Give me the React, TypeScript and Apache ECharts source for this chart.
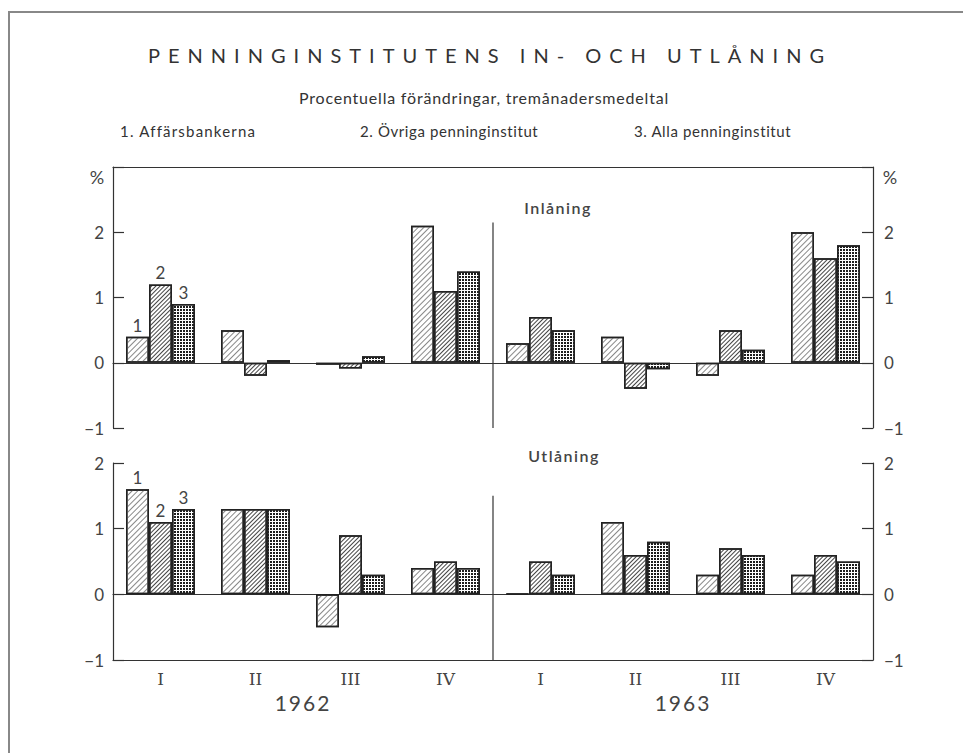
import React, { useEffect, useRef } from 'react';
import * as echarts from 'echarts';

const titleText = 'PENNINGINSTITUTENS IN- OCH UTLÅNING';
const subtitleText = 'Procentuella förändringar, tremånadersmedeltal';
const quarters = ['I', 'II', 'III', 'IV', 'I', 'II', 'III', 'IV'];
const years = ['1962', '1963'];
const seriesNames = ['1. Affärsbankerna', '2. Övriga penninginstitut', '3. Alla penninginstitut'];
const seriesTags = ['1', '2', '3'];
const panelTitles = ['Inlåning', 'Utlåning'];

const inlaning1 = [0.4, 0.5, -0.03, 2.1, 0.3, 0.4, -0.2, 2.0];
const inlaning2 = [1.2, -0.2, -0.09, 1.1, 0.7, -0.4, 0.5, 1.6];
const inlaning3 = [0.9, 0.04, 0.1, 1.4, 0.5, -0.1, 0.2, 1.8];

const utlaning1 = [1.6, 1.3, -0.5, 0.4, 0.01, 1.1, 0.3, 0.3];
const utlaning2 = [1.1, 1.3, 0.9, 0.5, 0.5, 0.6, 0.7, 0.6];
const utlaning3 = [1.3, 1.3, 0.3, 0.4, 0.3, 0.8, 0.6, 0.5];

const inRange = [-1, 3];
const utRange = [-1, 2];

const FONT = 'Lato';
const INK = '#333';

const decals: any[] = [
  { symbol: 'rect', symbolSize: 1, color: '#888', dashArrayX: [1, 0], dashArrayY: [1, 3], rotation: -Math.PI / 4 },
  { symbol: 'rect', symbolSize: 1, color: '#444', dashArrayX: [1, 0], dashArrayY: [1, 2], rotation: -Math.PI / 4 },
  { symbol: 'rect', symbolSize: 1, color: '#1e1e1e', dashArrayX: [2, 1], dashArrayY: [2, 1], rotation: 0 },
];

const fmt = (v: number) => String(v).replace('-', '−');

function makeSeries(values: number[], idx: number, xIdx: number, yIdx: number) {
  return {
    type: 'bar',
    name: seriesNames[idx],
    xAxisIndex: xIdx,
    yAxisIndex: yIdx,
    barWidth: 23,
    barGap: '0%',
    itemStyle: { color: '#fff', borderColor: '#222', borderWidth: 1.5, decal: decals[idx] },
    data: values.map((v, i) =>
      i === 0
        ? {
            value: v,
            label: {
              show: true,
              position: 'top',
              distance: 3,
              formatter: seriesTags[idx],
              fontSize: 17,
              color: '#444',
              fontFamily: FONT,
            },
          }
        : v
    ),
  };
}

function yAxis(gridIndex: number, range: number[], pos: 'left' | 'right', hideTop: boolean) {
  return {
    type: 'value',
    gridIndex,
    position: pos,
    min: range[0],
    max: range[1],
    interval: 1,
    splitLine: { show: false },
    axisLine: { show: true, onZero: false, lineStyle: { color: INK, width: 1.2 } },
    axisTick: { show: true, inside: true, length: 11, lineStyle: { color: INK, width: 1.2 } },
    axisLabel: {
      margin: pos === 'left' ? 9 : 11,
      fontSize: 17,
      color: '#444',
      fontFamily: FONT,
      formatter: (v: number) => (hideTop && v === range[1] ? '' : fmt(v)),
    },
  };
}

export default function App() {
  const ref = useRef<HTMLDivElement>(null);
  useEffect(() => {
    document.body.style.margin = '0';
    const chart = echarts.init(ref.current!, null, { renderer: 'svg' });
    const option: any = {
      animation: false,
      backgroundColor: '#fff',
      aria: { enabled: true, decal: { show: true } },
      grid: [
        { left: 113, right: 90, top: 167, height: 261 },
        { left: 113, right: 90, top: 463, height: 197 },
      ],
      xAxis: [
        {
          type: 'category', gridIndex: 0, position: 'bottom', data: quarters,
          axisLine: { show: true, onZero: true, lineStyle: { color: INK, width: 1.2 } },
          axisTick: { show: false }, axisLabel: { show: false },
        },
        {
          type: 'category', gridIndex: 0, position: 'top', data: quarters,
          axisLine: { show: true, onZero: false, lineStyle: { color: INK, width: 1.2 } },
          axisTick: { show: false }, axisLabel: { show: false },
        },
        {
          type: 'category', gridIndex: 1, position: 'bottom', data: quarters,
          axisLine: { show: true, onZero: false, lineStyle: { color: INK, width: 1.2 } },
          axisTick: { show: false },
          axisLabel: { show: true, interval: 0, margin: 10, fontSize: 17, color: '#444', fontFamily: 'DejaVu Serif' },
        },
        {
          type: 'category', gridIndex: 1, position: 'top', data: quarters,
          axisLine: { show: true, onZero: true, lineStyle: { color: INK, width: 1.2 } },
          axisTick: { show: false }, axisLabel: { show: false },
        },
      ],
      yAxis: [
        yAxis(0, inRange, 'left', true),
        yAxis(0, inRange, 'right', true),
        yAxis(1, utRange, 'left', false),
        yAxis(1, utRange, 'right', false),
      ],
      series: [
        makeSeries(inlaning1, 0, 0, 0),
        makeSeries(inlaning2, 1, 0, 0),
        makeSeries(inlaning3, 2, 0, 0),
        makeSeries(utlaning1, 0, 2, 2),
        makeSeries(utlaning2, 1, 2, 2),
        makeSeries(utlaning3, 2, 2, 2),
      ],
    };
    chart.setOption(option);

    const px = (axis: any, v: number) => chart.convertToPixel(axis, v) as unknown as number;
    const midTop = (px({ xAxisIndex: 0 }, 3) + px({ xAxisIndex: 0 }, 4)) / 2;
    const midBot = (px({ xAxisIndex: 2 }, 3) + px({ xAxisIndex: 2 }, 4)) / 2;
    const year1X = (px({ xAxisIndex: 2 }, 1) + px({ xAxisIndex: 2 }, 2)) / 2;
    const year2X = (px({ xAxisIndex: 2 }, 5) + px({ xAxisIndex: 2 }, 6)) / 2;
    const botY = px({ yAxisIndex: 2 }, utRange[0]);

    const txt = (text: string, x: number, y: number, size: number, align = 'center', extra: any = {}) => ({
      type: 'text',
      x,
      y,
      silent: true,
      style: {
        text,
        fontSize: size,
        fontFamily: FONT,
        fill: INK,
        align,
        verticalAlign: 'middle',
        ...extra,
      },
    });

    chart.setOption({
      graphic: [
        {
          type: 'polyline',
          silent: true,
          shape: { points: [[9, 753], [9, 12], [963, 12]] },
          style: { stroke: '#888', lineWidth: 2, fill: 'none' },
        },
        txt(titleText, 490, 55, 20),
        txt(subtitleText, 484, 97, 16),
        txt(seriesNames[0], 120, 131, 15, 'left'),
        txt(seriesNames[1], 360, 131, 15, 'left'),
        txt(seriesNames[2], 634, 131, 15, 'left'),
        txt('%', 97, 177, 18, 'center', { fill: '#444' }),
        txt('%', 890, 177, 18, 'center', { fill: '#444' }),
        txt(panelTitles[0], 558, 207, 16, 'center', { fontWeight: 600, fill: '#444' }),
        txt(panelTitles[1], 564, 455, 16, 'center', { fontWeight: 600, fill: '#444' }),
        {
          type: 'line', silent: true,
          shape: { x1: midTop, y1: px({ yAxisIndex: 0 }, 2.15), x2: midTop, y2: px({ yAxisIndex: 0 }, inRange[0]) },
          style: { stroke: INK, lineWidth: 1.2 },
        },
        {
          type: 'line', silent: true,
          shape: { x1: midBot, y1: px({ yAxisIndex: 2 }, 1.5), x2: midBot, y2: botY },
          style: { stroke: INK, lineWidth: 1.2 },
        },
        txt(years[0], year1X, botY + 42, 21, 'center', { fill: '#444' }),
        txt(years[1], year2X, botY + 42, 21, 'center', { fill: '#444' }),
      ],
    });

    const spacing: Record<string, string> = {
      [titleText]: '8',
      [subtitleText]: '0.8',
      [seriesNames[0]]: '1.2',
      [seriesNames[1]]: '0.6',
      [seriesNames[2]]: '0.6',
      [panelTitles[0]]: '1.5',
      [panelTitles[1]]: '1.5',
      [years[0]]: '2',
      [years[1]]: '2',
    };
    ref.current!.querySelectorAll('text').forEach((t) => {
      const s = spacing[t.textContent || ''];
      if (s) t.setAttribute('letter-spacing', s);
    });

    return () => chart.dispose();
  }, []);
  return <div ref={ref} style={{ width: 963, height: 753 }} />;
}
